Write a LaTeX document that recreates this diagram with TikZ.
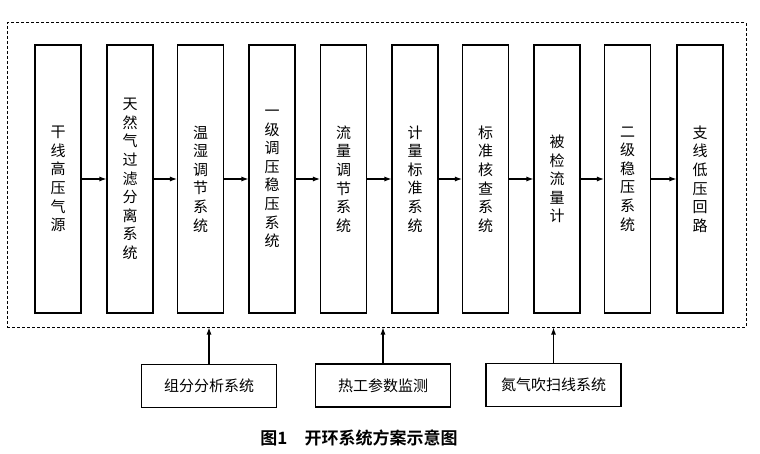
\documentclass[tikz,border=0pt]{standalone}
\usepackage{fontspec}
\newfontfamily\cjk{Noto Sans CJK SC}
\newfontfamily\cjkb{Noto Sans CJK SC Bold}
\usetikzlibrary{arrows.meta}
\begin{document}
\begin{tikzpicture}[x=1pt,y=-1pt,
  stage/.style={draw,line width=1.1pt,minimum width=46pt,minimum height=268pt,inner sep=0pt,
    align=center,font=\cjk\fontsize{15}{18.6}\selectfont},
  aux/.style={draw,line width=1.1pt,minimum width=135pt,minimum height=43pt,inner sep=0pt,
    font=\cjk\fontsize{15}{18}\selectfont},
  frame/.style={draw,dash pattern=on 3pt off 2pt,line width=1pt,minimum width=739pt,minimum height=304pt,inner sep=0pt},
  flow/.style={line width=1.1pt,-{Latex[length=7pt,width=5pt]}}]
\useasboundingbox[fill=white] (0,0) rectangle (760,454);
\node[frame] (fr) at (376.5,175) {};
\node[stage] (s1) at (58,179) {干\\线\\高\\压\\气\\源};
\node[stage] (s2) at (130,179) {天\\然\\气\\过\\滤\\分\\离\\系\\统};
\node[stage] (s3) at (200.5,179) {温\\湿\\调\\节\\系\\统};
\node[stage] (s4) at (272,179) {一\\级\\调\\压\\稳\\压\\系\\统};
\node[stage] (s5) at (343.5,179) {流\\量\\调\\节\\系\\统};
\node[stage] (s6) at (415,179) {计\\量\\标\\准\\系\\统};
\node[stage] (s7) at (485.5,179) {标\\准\\核\\查\\系\\统};
\node[stage] (s8) at (557,179) {被\\检\\流\\量\\计};
\node[stage] (s9) at (627.5,179) {二\\级\\稳\\压\\系\\统};
\node[stage] (s10) at (700,179) {支\\线\\低\\压\\回\\路};
\foreach \a/\b in {s1/s2,s2/s3,s3/s4,s4/s5,s5/s6,s6/s7,s7/s8,s8/s9,s9/s10}
  \draw[flow] (\a.east) -- (\b.west);
\node[aux] (a1) at (209,386) {组分分析系统};
\node[aux] (a2) at (383,385.5) {热工参数监测};
\node[aux] (a3) at (553.5,385) {氮气吹扫线系统};
\foreach \n in {a1,a2,a3}
  \draw[flow] (\n.north) -- (\n.north |- fr.south);
\node[font=\cjkb\fontsize{17}{20}\selectfont] (cap) at (359,438) {图1\quad 开环系统方案示意图};
\end{tikzpicture}
\end{document}
